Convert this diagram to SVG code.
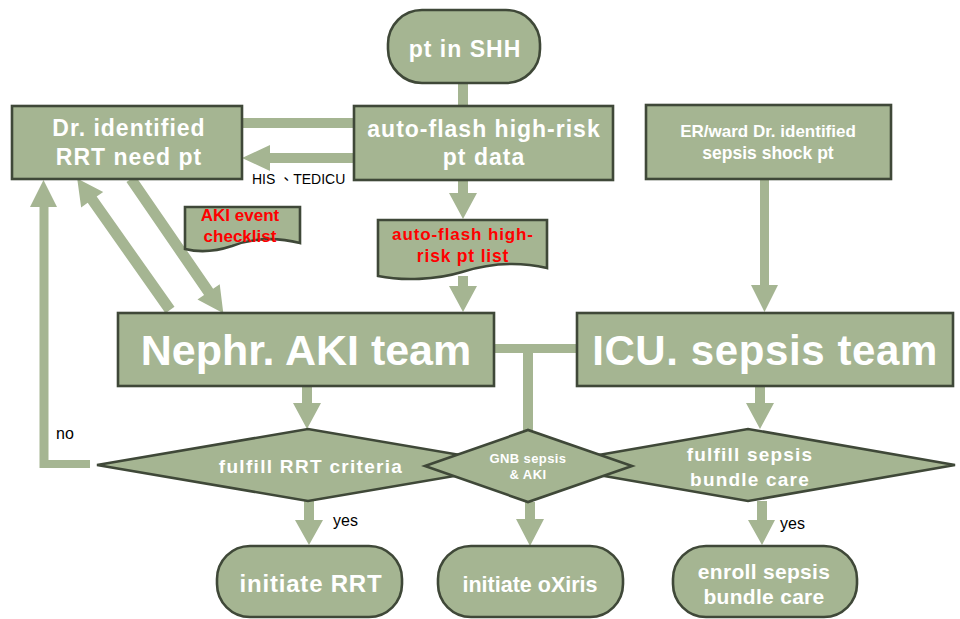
<svg xmlns="http://www.w3.org/2000/svg" width="960" height="619" viewBox="0 0 960 619">
<style>
.n{fill:#a5b592;stroke:#3f4838;stroke-width:2.6}
.c{fill:#a5b592;stroke:none}
.t{font-family:"Liberation Sans",Arial,sans-serif;font-weight:bold;fill:#ffffff;text-anchor:middle}
.r{font-family:"Liberation Sans",Arial,sans-serif;font-weight:bold;fill:#ff0000;text-anchor:middle}
.k{font-family:"Liberation Sans",Arial,"Noto Sans CJK TC",sans-serif;fill:#000000}
.h{font-size:23px;letter-spacing:1px}
</style>
<rect width="960" height="619" fill="#ffffff"/>
<g id="connectors">
<rect class="c" x="458" y="82" width="10" height="26"/>
<rect class="c" x="241" y="118" width="115" height="10"/>
<polygon class="c" points="354,153 270,153 270,145 242,158 270,171 270,163 354,163"/>
<polygon class="c" points="458,180 468,180 468,193 477,193 463,219 449,193 458,193"/>
<polygon class="c" points="458,276 468,276 468,286 477,286 463,312 449,286 458,286"/>
<polygon class="c" points="760,179 769,179 769,285 778,285 764.5,312 751,285 760,285"/>
<polygon class="c" points="302,386 312,386 312,403 321,403 307,429 293,403 302,403"/>
<polygon class="c" points="755,386 765,386 765,403 774,403 760,429 746,403 755,403"/>
<polygon class="c" points="304,501 314,501 314,520 323,520 309,545 295,520 304,520"/>
<polygon class="c" points="525,502 535,502 535,519 544,519 530,546 516,519 525,519"/>
<polygon class="c" points="757,501 767,501 767,520 775,520 762,545 748,520 757,520"/>
<rect class="c" x="493" y="344" width="85" height="9"/>
<rect class="c" x="523" y="344" width="10" height="88"/>
<polygon class="c" points="90,460 90,468 39.5,468 39.5,207 30,207 43.5,180 57,207 48.5,207 48.5,460"/>
<polygon class="c" transform="translate(170,310) rotate(-125.2)" points="0,-5.5 135,-5.5 135,-13.5 161,0 135,13.5 135,5.5 0,5.5"/>
<polygon class="c" transform="translate(131,179) rotate(55.5)" points="0,-5.5 137,-5.5 137,-13.5 163,0 137,13.5 137,5.5 0,5.5"/>
</g>
<text class="k" x="252" y="184" font-size="14">HIS 、TEDICU</text>
<text class="k" x="56" y="439" font-size="16">no</text>
<text class="k" x="333" y="526" font-size="16">yes</text>
<text class="k" x="780" y="529" font-size="16">yes</text>
<g id="pt-in-shh">
<rect class="n" x="388" y="10" width="152" height="73" rx="34" ry="34"/>
<text class="t h" x="465" y="57" letter-spacing="1.5">pt in SHH</text>
</g>
<g id="auto-flash-data">
<rect class="n" x="354" y="106" width="259" height="74"/>
<text class="t h" x="484" y="137">auto-flash high-risk</text>
<text class="t h" x="484" y="165">pt data</text>
</g>
<g id="dr-identified">
<rect class="n" x="12" y="106" width="230" height="73"/>
<text class="t h" x="129" y="136">Dr. identified</text>
<text class="t h" x="129" y="165">RRT need pt</text>
</g>
<g id="er-ward">
<rect class="n" x="646" y="105" width="245" height="74"/>
<text class="t" x="768" y="137" font-size="17">ER/ward Dr. identified</text>
<text class="t" x="768" y="159" font-size="17.5">sepsis shock pt</text>
</g>
<g id="aki-checklist">
<path class="n" d="M185,207 H300 V243 C272,236 248,240 232,246 C214,252 197,252 185,249 Z"/>
<text class="r" x="240" y="221" font-size="17">AKI event</text>
<text class="r" x="240" y="242" font-size="17">checklist</text>
</g>
<g id="auto-flash-list">
<path class="n" d="M378,220 H547 V268 C512,260 484,265 462,272 C436,280 402,281 378,276 Z"/>
<text class="r" x="463" y="240" font-size="17" letter-spacing="0.9">auto-flash high-</text>
<text class="r" x="463" y="262" font-size="17.5" letter-spacing="0.8">risk pt list</text>
</g>
<g id="nephr-aki-team">
<rect class="n" x="118" y="313" width="376" height="73"/>
<text class="t" x="306" y="365" font-size="43">Nephr. AKI team</text>
</g>
<g id="icu-sepsis-team">
<rect class="n" x="577" y="313" width="376" height="73"/>
<text class="t" x="765" y="365" font-size="42" letter-spacing="0.6">ICU. sepsis team</text>
</g>
<g id="fulfill-rrt">
<polygon class="n" points="97,465 308,429 519,465 308,501"/>
<text class="t" x="311" y="473" font-size="19" letter-spacing="1.3">fulfill RRT criteria</text>
</g>
<g id="fulfill-sepsis">
<polygon class="n" points="541,465 748,429 955,465 748,501"/>
<text class="t" x="750" y="461" font-size="19" letter-spacing="1.2">fulfill sepsis</text>
<text class="t" x="750" y="486" font-size="19" letter-spacing="1.2">bundle care</text>
</g>
<g id="gnb-sepsis-aki">
<polygon class="n" points="425,466 528,430 632,466 528,502"/>
<text class="t" x="528" y="463" font-size="13" letter-spacing="0.4">GNB sepsis</text>
<text class="t" x="528" y="479" font-size="13" letter-spacing="0.4">&amp; AKI</text>
</g>
<g id="initiate-rrt">
<rect class="n" x="217" y="546" width="185" height="71" rx="33" ry="33"/>
<text class="t" x="311" y="592" font-size="24" letter-spacing="0.8">initiate RRT</text>
</g>
<g id="initiate-oxiris">
<rect class="n" x="438" y="546" width="185" height="71" rx="33" ry="33"/>
<text class="t" x="530" y="592" font-size="21.5">initiate oXiris</text>
</g>
<g id="enroll-sepsis">
<rect class="n" x="673" y="546" width="184" height="71" rx="33" ry="33"/>
<text class="t" x="764" y="579" font-size="21" letter-spacing="0.3">enroll sepsis</text>
<text class="t" x="764" y="604" font-size="21" letter-spacing="0.3">bundle care</text>
</g>
</svg>
